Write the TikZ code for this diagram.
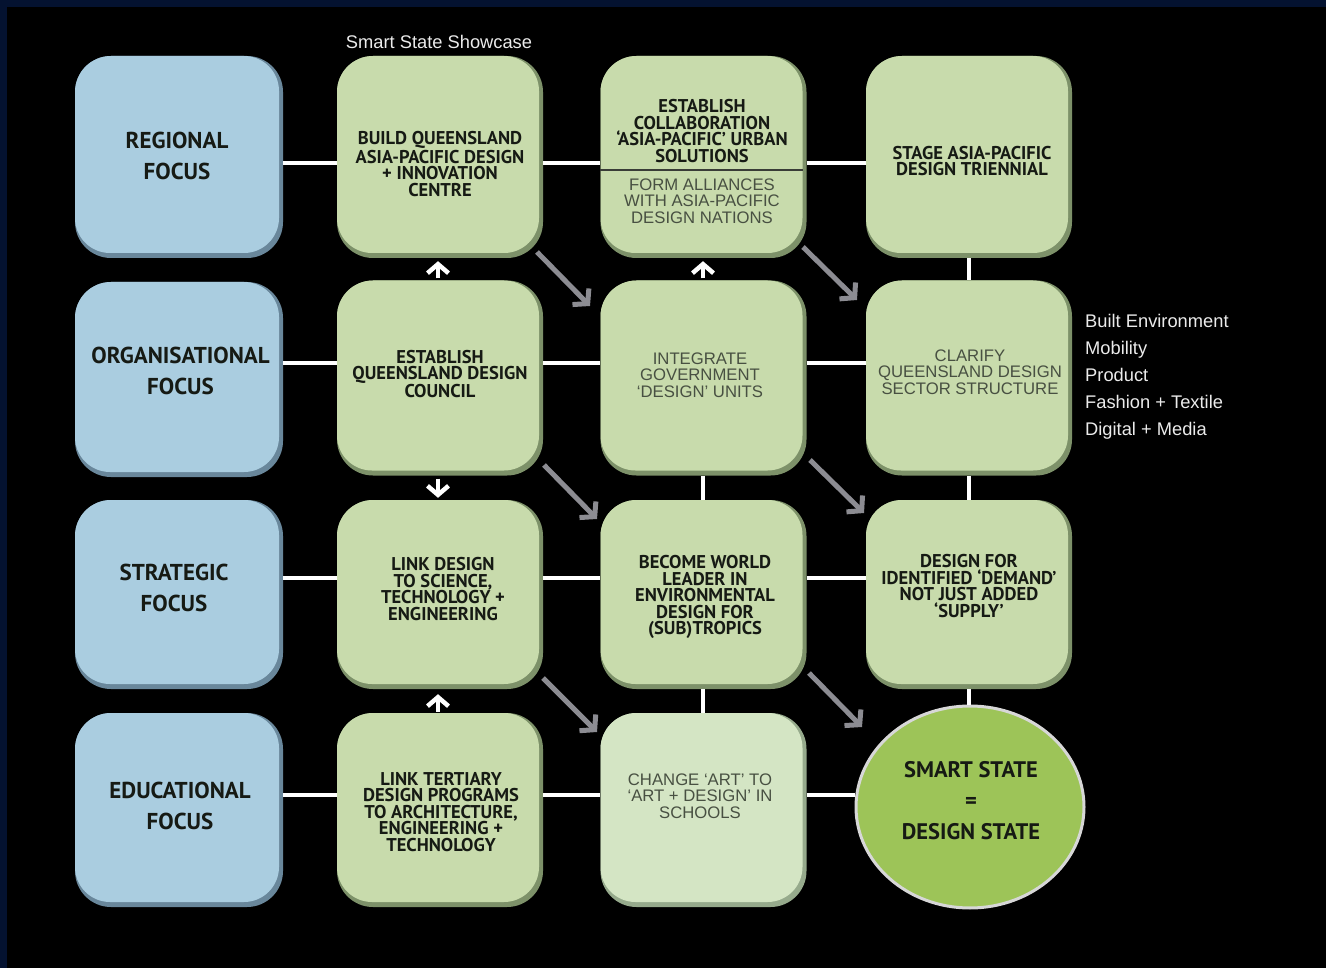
\documentclass[tikz,border=0pt]{standalone}
\usepackage{fontspec}
\setmainfont{PT Sans}
\newfontfamily\arialf{Liberation Sans}
\usetikzlibrary{shapes.geometric,arrows.meta}
\definecolor{navy}{RGB}{4,18,48}
\definecolor{blueL}{RGB}{170,205,224}
\definecolor{blueD}{RGB}{105,135,155}
\definecolor{greenL}{RGB}{200,219,172}
\definecolor{greenD}{RGB}{125,145,105}
\definecolor{paleL}{RGB}{212,229,196}
\definecolor{paleD}{RGB}{150,170,140}
\definecolor{ballG}{RGB}{157,196,88}
\definecolor{ballE}{RGB}{215,215,215}
\definecolor{arrG}{RGB}{140,140,146}
\definecolor{grayT}{RGB}{72,80,66}
\definecolor{ink}{RGB}{22,26,20}
\tikzset{
  bevel/.style 2 args={rounded corners=36pt, fill=#2, inner sep=0pt,
    path picture={\fill[#1, rounded corners=35pt]
      ([shift={(0pt,0pt)}]path picture bounding box.north west) rectangle
      ([shift={(-4pt,5pt)}]path picture bounding box.south east);}},
  bluebox/.style={bevel={blueL}{blueD}, minimum width=208pt},
  greenbox/.style={bevel={greenL}{greenD}, minimum width=206pt},
  palebox/.style={bevel={paleL}{paleD}, minimum width=206pt},
  rowA/.style={minimum height=202pt},
  rowB/.style={minimum height=195pt},
  rowC/.style={minimum height=189pt},
  rowD/.style={minimum height=194pt},
  foc/.style={font=\bfseries\fontsize{23}{31}\selectfont, align=center, text=ink, inner sep=0pt},
  bt/.style={font=\bfseries\fontsize{18.5}{16.5}\selectfont, align=center, text=ink, inner sep=0pt},
  gt/.style={font=\arialf\fontsize{16.7}{16.5}\selectfont, align=center, text=grayT, inner sep=0pt},
  wt/.style={font=\arialf\fontsize{18.3}{27}\selectfont, text=white!92!black, inner sep=0pt},
  link/.style={draw=white, line width=4pt},
  uparr/.style={draw=white, line width=4.5pt, -{Straight Barb[length=9pt, width=21pt]}},
  diag/.style={draw=arrG, line width=5pt, -{Straight Barb[length=10pt, width=23pt]}},
}
\begin{document}
\begin{tikzpicture}[x=1pt,y=-1pt]
\fill[navy] (0,0) rectangle (1326,968);
\fill[black] (7,7) rectangle (1326,968);
\useasboundingbox (0,0) rectangle (1326,968);

% row reference lines
\coordinate (r1) at (0,163);
\coordinate (r2) at (0,363);
\coordinate (r3) at (0,578);
\coordinate (r4) at (0,795);
\coordinate (vx3) at (703,0);
\coordinate (vx4) at (969,0);
\coordinate (vx2) at (438,0);

% boxes
\node[bluebox,rowA] (a1) at (179,157) {};
\node[bluebox,rowB] (a2) at (179,379.5) {};
\node[bluebox,rowC] (a3) at (179,594.5) {};
\node[bluebox,rowD] (a4) at (179,810) {};

\node[greenbox,rowA] (b1) at (440,157) {};
\node[greenbox,rowB] (b2) at (440,378) {};
\node[greenbox,rowC] (b3) at (440,594.5) {};
\node[greenbox,rowD] (b4) at (440,810) {};

\node[greenbox,rowA] (c1) at (703.5,157) {};
\node[greenbox,rowB] (c2) at (703.5,378) {};
\node[greenbox,rowC] (c3) at (703.5,594.5) {};
\node[palebox,rowD] (c4) at (703.5,810) {};

\node[greenbox,rowA] (d1) at (969,157) {};
\node[greenbox,rowB] (d2) at (969,378) {};
\node[greenbox,rowC] (d3) at (969,594.5) {};
\node[ellipse, fill=ballG, draw=ballE, line width=3pt, minimum width=228pt, minimum height=202pt] (d4) at (970,807) {};

% horizontal links
\foreach \r/\n in {1/1,2/2,3/3,4/4}{
  \draw[link] (a\n.east |- r\r) -- (b\n.west |- r\r);
  \draw[link] (b\n.east |- r\r) -- (c\n.west |- r\r);
}
\draw[link] (c1.east |- r1) -- (d1.west |- r1);
\draw[link] (c2.east |- r2) -- (d2.west |- r2);
\draw[link] (c3.east |- r3) -- (d3.west |- r3);
\draw[link] (c4.east |- r4) -- (d4.west |- r4);

% vertical links
\draw[link] (d1.south -| vx4) -- (d2.north -| vx4);
\draw[link] (d2.south -| vx4) -- (d3.north -| vx4);
\draw[link] (d3.south -| vx4) -- (d4.north -| vx4);
\draw[link] (c2.south -| vx3) -- (c3.north -| vx3);
\draw[link] (c3.south -| vx3) -- (c4.north -| vx3);

% white arrows
\draw[uparr, shorten <=2pt, shorten >=3pt] (b2.north -| vx2) -- (b1.south -| vx2);
\draw[uparr, shorten <=3pt, shorten >=2pt] (b2.south -| vx2) -- (b3.north -| vx2);
\draw[uparr, shorten <=1pt, shorten >=5pt] (b4.north -| vx2) -- (b3.south -| vx2);
\draw[uparr, shorten <=2pt, shorten >=3pt] (c2.north -| vx3) -- (c1.south -| vx3);

% grey diagonal arrows
\coordinate (g1a) at (537,252); \coordinate (g1b) at (590,306);
\coordinate (g2a) at (803,247); \coordinate (g2b) at (857,300);
\coordinate (g3a) at (544,465); \coordinate (g3b) at (597,519);
\coordinate (g4a) at (810,460); \coordinate (g4b) at (864,513);
\coordinate (g5a) at (543,678); \coordinate (g5b) at (597,732);
\coordinate (g6a) at (809,673); \coordinate (g6b) at (862,727);
\foreach \i in {1,...,6}{\draw[diag] (g\i a) -- (g\i b);}

% divider in c1
\coordinate (dv) at (0,170);
\draw[draw=ink!85, line width=1.6pt] (c1.west |- dv) -- ([xshift=-4pt]c1.east |- dv);

% texts
\node[foc] (a1t) at (177,156) {REGIONAL\\FOCUS};
\node[foc] (a2t) at (180.5,371) {ORGANISATIONAL\\FOCUS};
\node[foc] (a3t) at (174,588) {STRATEGIC\\FOCUS};
\node[foc] (a4t) at (180,806) {EDUCATIONAL\\FOCUS};

\node[bt] (b1t) at (440,164) {BUILD QUEENSLAND\\ASIA-PACIFIC DESIGN\\+ INNOVATION\\CENTRE};
\node[bt] (b2t) at (440,374) {ESTABLISH\\QUEENSLAND DESIGN\\COUNCIL};
\node[bt] (b3t) at (443,589) {LINK DESIGN\\TO SCIENCE,\\TECHNOLOGY +\\ENGINEERING};
\node[bt] (b4t) at (441,812) {LINK TERTIARY\\DESIGN PROGRAMS\\TO ARCHITECTURE,\\ENGINEERING +\\TECHNOLOGY};

\node[bt] (c1t) at (702,131) {ESTABLISH\\COLLABORATION\\‘ASIA-PACIFIC’ URBAN\\SOLUTIONS};
\node[gt] (c1b) at (702,201) {FORM ALLIANCES\\WITH ASIA-PACIFIC\\DESIGN NATIONS};
\node[gt] (c2t) at (700,375) {INTEGRATE\\GOVERNMENT\\‘DESIGN’ UNITS};
\node[bt] (c3t) at (705,597) {BECOME WORLD\\LEADER IN\\ENVIRONMENTAL\\DESIGN FOR\\(SUB)TROPICS};
\node[gt] (c4t) at (700,796) {CHANGE ‘ART’ TO\\‘ART + DESIGN’ IN\\SCHOOLS};

\node[bt] (d1t) at (972,161) {STAGE ASIA-PACIFIC\\DESIGN TRIENNIAL};
\node[gt] (d2t) at (970,372) {CLARIFY\\QUEENSLAND DESIGN\\SECTOR STRUCTURE};
\node[bt] (d3t) at (969,586) {DESIGN FOR\\IDENTIFIED ‘DEMAND’\\NOT JUST ADDED\\‘SUPPLY’};
\node[foc, font=\bfseries\fontsize{22.5}{31}\selectfont] (d4t) at (971,801) {SMART STATE\\=\\DESIGN STATE};

\node[wt] (top) at (439,42) {Smart State Showcase};
\node[wt, align=left, anchor=west] (list) at (1085,377) {Built Environment\\Mobility\\Product\\Fashion + Textile\\Digital + Media};
\end{tikzpicture}
\end{document}
